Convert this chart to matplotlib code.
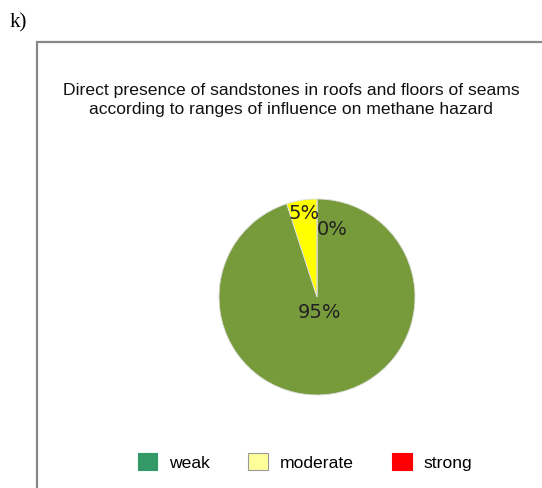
import numpy as np
import matplotlib.pyplot as plt
from matplotlib.patches import Rectangle, Patch

# data
categories = ['weak', 'moderate', 'strong']
shares = [95, 5, 0]
pie_colors = ['#779a3b', '#ffff00', '#ff0000']
legend_colors = ['#339966', '#ffff99', '#ff0000']
legend_edges = ['#339966', '#999999', '#ff0000']
pct_labels = ['95%', '5%', '0%']

W, H = 542, 488
fig = plt.figure(figsize=(W / 100, H / 100), dpi=100)

# outer frame of the chart area (runs off the right/bottom edge)
fig.patches.append(Rectangle((37 / W, -0.1), 1.2, (H - 42) / H + 0.1,
                             transform=fig.transFigure, fill=False,
                             edgecolor='#888888', linewidth=1.6))

fig.text(10 / W, 1 - 23 / H, 'k)', family='Liberation Serif', fontsize=15,
         va='center', ha='left')
fig.text(291 / W, 1 - 100 / H,
         'Direct presence of sandstones in roofs and floors of seams\n'
         'according to ranges of influence on methane hazard',
         family='Liberation Sans', fontsize=12.6, ha='center', va='center',
         linespacing=1.3, color='#111111')

# pie: centre (317, 297), radius 98 px
r = 98
ax = fig.add_axes([(317 - r) / W, 1 - (297 + r) / H, 2 * r / W, 2 * r / H])
wedges, _ = ax.pie(shares, colors=pie_colors, startangle=90, counterclock=False,
                   wedgeprops=dict(edgecolor='#dddddd', linewidth=0.6))
ax.set_xlim(-1, 1)
ax.set_ylim(-1, 1)
ax.set_aspect('equal')

# percentage labels, placed along each wedge's mid angle
dists = [0.16, 0.86, 0.0]
for w, lab, d in zip(wedges, pct_labels, dists):
    mid = np.deg2rad((w.theta1 + w.theta2) / 2)
    x, y = d * np.cos(mid), d * np.sin(mid)
    if lab == '0%':
        x, y = 0.15, 0.69
    ax.text(x, y, lab, ha='center', va='center', fontsize=14,
            family='DejaVu Sans', color='#222222')

handles = [Patch(facecolor=c, edgecolor=e, linewidth=0.8)
           for c, e in zip(legend_colors, legend_edges)]
fig.legend(handles, categories, loc='center', bbox_to_anchor=(305 / W, 1 - 462 / H),
           ncol=3, frameon=False, prop=dict(family='Liberation Sans', size=12.6),
           handlelength=1.1, handleheight=1.1, handletextpad=0.7, columnspacing=2.2)

fig.savefig('out.png', dpi=100)
